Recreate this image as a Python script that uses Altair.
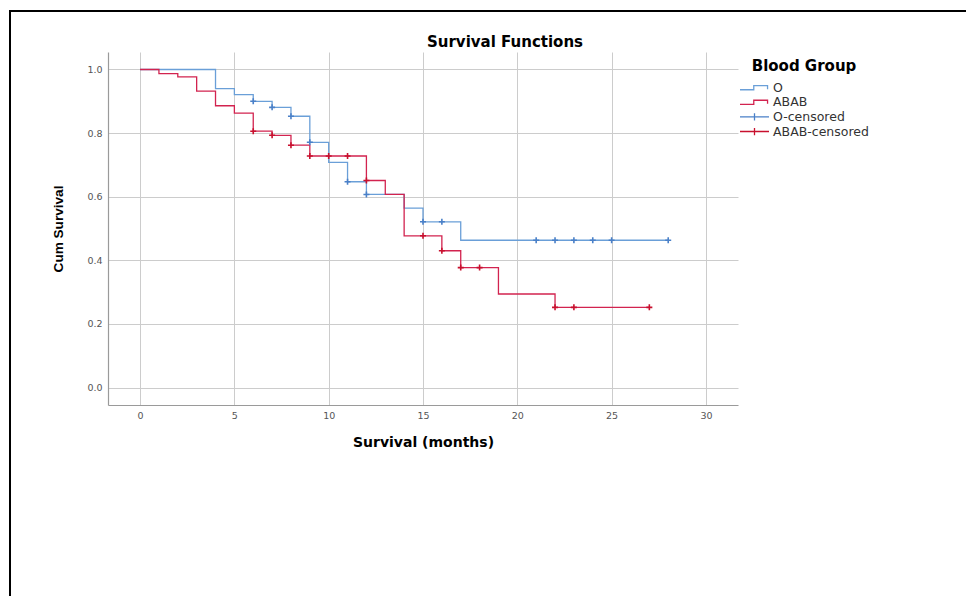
import altair as alt
import pandas as pd

# ---- data ----
series_names = ["O", "ABAB", "O-censored", "ABAB-censored"]
series_colors = ["#6a9fd8", "#d2234f", "#4a80c8", "#c8102e"]

o_time = [0, 4, 5, 6, 7, 8, 9, 10, 11, 12, 14, 15, 17, 28]
o_surv = [1.0, 0.940, 0.921, 0.900, 0.881, 0.853, 0.771, 0.708, 0.647, 0.607, 0.564, 0.521, 0.463, 0.463]

ab_time = [0, 1, 2, 3, 4, 5, 6, 7, 8, 9, 12, 13, 14, 16, 17, 19, 22, 27]
ab_surv = [1.0, 0.987, 0.977, 0.932, 0.886, 0.863, 0.806, 0.793, 0.762, 0.728, 0.651, 0.607,
           0.477, 0.430, 0.377, 0.294, 0.252, 0.252]

o_cens_time = [6, 7, 8, 9, 11, 12, 15, 16, 21, 22, 23, 24, 25, 28]
o_cens_surv = [0.900, 0.881, 0.853, 0.771, 0.647, 0.607, 0.521, 0.521, 0.463, 0.463, 0.463,
               0.463, 0.463, 0.463]

ab_cens_time = [6, 7, 8, 9, 10, 11, 12, 15, 16, 17, 18, 22, 23, 27]
ab_cens_surv = [0.806, 0.793, 0.762, 0.728, 0.728, 0.728, 0.651, 0.477, 0.430, 0.377, 0.377,
                0.252, 0.252, 0.252]

x_ticks = [0, 5, 10, 15, 20, 25, 30]
y_ticks = [0.0, 0.2, 0.4, 0.6, 0.8, 1.0]

lines_df = pd.concat([
    pd.DataFrame({"t": o_time, "s": o_surv, "series": "O"}),
    pd.DataFrame({"t": ab_time, "s": ab_surv, "series": "ABAB"}),
], ignore_index=True)

cens_df = pd.concat([
    pd.DataFrame({"t": o_cens_time, "s": o_cens_surv, "series": "O-censored"}),
    pd.DataFrame({"t": ab_cens_time, "s": ab_cens_surv, "series": "ABAB-censored"}),
], ignore_index=True)

STEP = "M-1,0.14H-0.05V-0.14H0.9V0.1"
CROSS_LEG = "M-1,0H1M0,-0.25V0.25"
CROSS = "M-1,0H1M0,-1V1"

PW, PH = 630, 353

x_scale = alt.Scale(domain=[-1.7, 31.7], nice=False, zero=False)
y_scale = alt.Scale(domain=[-0.055, 1.055], nice=False, zero=False)
color_scale = alt.Scale(domain=series_names, range=series_colors)
shape_scale = alt.Scale(domain=series_names, range=[STEP, STEP, CROSS_LEG, CROSS_LEG])

legend = alt.Legend(
    title="Blood Group", orient="none", legendX=631, legendY=7,
    titleFont="DejaVu Sans", titleFontSize=15, titleFontWeight="bold", titleColor="#000000",
    titleAnchor="middle", titlePadding=7.7,
    labelFont="DejaVu Sans", labelFontSize=12.5, labelColor="#333333", labelOffset=3,
    symbolSize=841, symbolStrokeWidth=1.3, clipHeight=12, rowPadding=1.6,
)

x_enc = alt.X("t:Q", scale=x_scale, title="Survival (months)",
              axis=alt.Axis(values=x_ticks, format="d", ticks=False, labelPadding=5,
                            titlePadding=16))
y_enc = alt.Y("s:Q", scale=y_scale, title="Cum Survival",
              axis=alt.Axis(values=y_ticks, format=".1f", ticks=False, labelPadding=6,
                            titlePadding=21))

lines = alt.Chart(lines_df).mark_line(interpolate="step-after", strokeWidth=1.3).encode(
    x=x_enc, y=y_enc,
    color=alt.Color("series:N", scale=color_scale, legend=legend),
    order=alt.Order("t:Q"),
)

crosses = alt.Chart(cens_df).mark_point(shape=CROSS, size=36, filled=False, strokeWidth=1.6,
                                        opacity=1).encode(
    x=alt.X("t:Q", scale=x_scale), y=alt.Y("s:Q", scale=y_scale),
    color=alt.Color("series:N", scale=color_scale, legend=legend),
)

legend_keys = alt.Chart(cens_df).mark_point(filled=False, size=841, strokeWidth=1.3,
                                            opacity=1).encode(
    x=alt.X("t:Q", scale=x_scale), y=alt.Y("s:Q", scale=y_scale),
    color=alt.Color("series:N", scale=color_scale, legend=legend),
    shape=alt.Shape("series:N", scale=shape_scale, legend=legend),
).transform_filter("datum.t < -100")

one = pd.DataFrame({"k": [0]})
frame_left = alt.Chart(one).mark_rule(color="#000000", strokeWidth=2).encode(
    x=alt.value(-98), y=alt.value(-41), y2=alt.value(544))
frame_top = alt.Chart(one).mark_rule(color="#000000", strokeWidth=2).encode(
    x=alt.value(-99), x2=alt.value(858), y=alt.value(-41))

chart = alt.layer(lines, crosses, legend_keys, frame_left, frame_top).properties(
    width=PW, height=PH,
    padding={"left": 0, "top": 2, "right": 0, "bottom": 0},
    title=alt.TitleParams("Survival Functions", font="DejaVu Sans", fontSize=15,
                          fontWeight="bold", color="#000000", anchor="middle", dx=82,
                          dy=43, offset=3),
).configure_view(strokeWidth=0).configure_axis(
    gridColor="#cccccc", gridWidth=1, domainColor="#9a9a9a", domainWidth=1.2,
    labelFont="DejaVu Sans", labelFontSize=9.5, labelColor="#555555",
    titleColor="#000000", titleFontWeight="bold",
).configure_axisX(titleFont="DejaVu Sans", titleFontSize=14).configure_axisY(
    titleFont="Liberation Sans", titleFontSize=13.6
)

chart.save("out.html", embed_options={"renderer": "svg", "actions": False})
